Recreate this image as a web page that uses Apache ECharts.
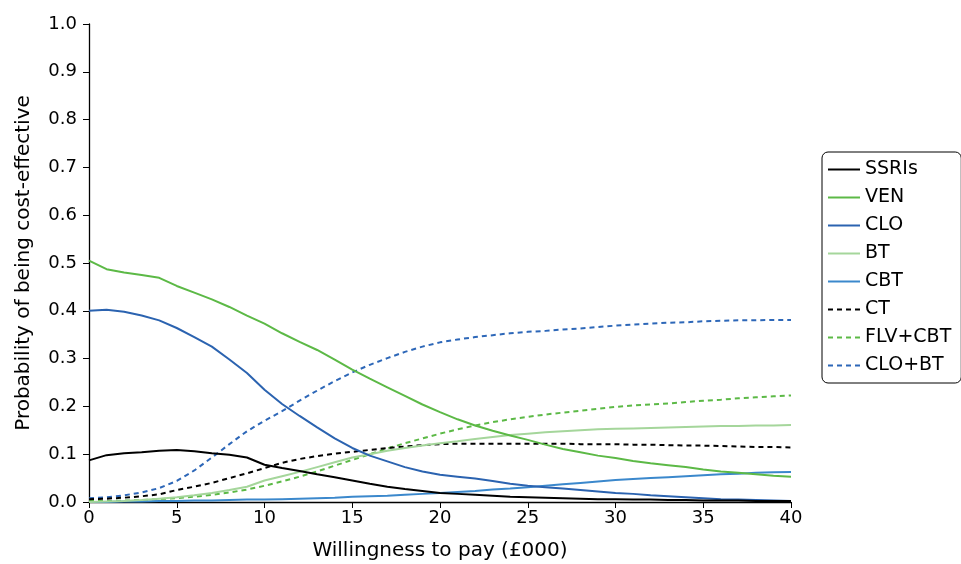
<!DOCTYPE html>
<html><head><meta charset="utf-8">
<script src="https://cdn.jsdelivr.net/npm/echarts@6/dist/echarts.min.js"></script>
<style>html,body{margin:0;padding:0;background:#fff}#c{width:961px;height:564px}</style>
</head><body><div id="c"></div>
<script>
const xValues = [0,1,2,3,4,5,6,7,8,9,10,11,12,13,14,15,16,17,18,19,20,21,22,23,24,25,26,27,28,29,30,31,32,33,34,35,36,37,38,39,40];
const seriesNames = ['SSRIs','VEN','CLO','BT','CBT','CT','FLV+CBT','CLO+BT'];
const ssris = [0.087,0.098,0.102,0.104,0.107,0.109,0.106,0.102,0.099,0.093,0.078,0.071,0.065,0.058,0.052,0.045,0.038,0.032,0.027,0.023,0.019,0.017,0.015,0.013,0.011,0.010,0.009,0.008,0.007,0.006,0.006,0.005,0.005,0.004,0.004,0.003,0.003,0.003,0.002,0.002,0.002];
const ven = [0.505,0.487,0.480,0.475,0.469,0.452,0.438,0.424,0.408,0.390,0.373,0.353,0.335,0.318,0.298,0.277,0.258,0.240,0.222,0.204,0.188,0.173,0.160,0.149,0.139,0.130,0.120,0.111,0.104,0.097,0.092,0.086,0.081,0.077,0.073,0.068,0.064,0.061,0.058,0.055,0.053];
const clo = [0.400,0.402,0.398,0.390,0.380,0.364,0.345,0.325,0.298,0.270,0.235,0.205,0.180,0.156,0.133,0.113,0.097,0.085,0.073,0.064,0.057,0.053,0.049,0.044,0.038,0.034,0.031,0.028,0.025,0.022,0.019,0.017,0.014,0.012,0.010,0.008,0.006,0.005,0.004,0.003,0.002];
const bt = [0.000,0.001,0.002,0.004,0.007,0.010,0.014,0.019,0.025,0.032,0.045,0.054,0.063,0.073,0.083,0.093,0.100,0.107,0.113,0.118,0.123,0.127,0.132,0.136,0.140,0.143,0.146,0.148,0.150,0.152,0.153,0.154,0.155,0.156,0.157,0.158,0.159,0.159,0.160,0.160,0.161];
const cbt = [0.000,0.000,0.001,0.001,0.002,0.002,0.003,0.003,0.004,0.005,0.005,0.006,0.007,0.008,0.009,0.011,0.012,0.013,0.015,0.017,0.019,0.021,0.023,0.026,0.028,0.031,0.034,0.037,0.040,0.043,0.046,0.048,0.050,0.052,0.054,0.056,0.058,0.059,0.061,0.062,0.063];
const ct = [0.006,0.007,0.009,0.012,0.016,0.025,0.032,0.040,0.050,0.060,0.071,0.082,0.090,0.096,0.101,0.105,0.109,0.113,0.116,0.119,0.121,0.122,0.122,0.122,0.122,0.122,0.122,0.122,0.121,0.121,0.121,0.120,0.120,0.119,0.118,0.118,0.117,0.116,0.115,0.115,0.114];
const flvCbt = [0.002,0.002,0.003,0.004,0.006,0.008,0.011,0.015,0.020,0.026,0.034,0.043,0.053,0.064,0.076,0.088,0.100,0.112,0.123,0.133,0.143,0.152,0.160,0.167,0.173,0.178,0.183,0.187,0.191,0.195,0.199,0.202,0.204,0.206,0.209,0.212,0.214,0.217,0.219,0.221,0.223];
const cloBt = [0.008,0.010,0.014,0.020,0.029,0.044,0.066,0.093,0.121,0.148,0.170,0.190,0.212,0.233,0.253,0.271,0.287,0.301,0.314,0.325,0.334,0.340,0.345,0.349,0.353,0.356,0.358,0.361,0.363,0.366,0.369,0.371,0.373,0.375,0.376,0.378,0.379,0.380,0.380,0.381,0.381];

const allData = [ssris, ven, clo, bt, cbt, ct, flvCbt, cloBt];
const colors = ['#000000','#5cb946','#2b63b0','#a5d69b','#3b88cc','#000000','#5cb946','#2d67b8'];
const dashed = [false,false,false,false,false,true,true,true];
const FONT = 'DejaVu Sans';

const chart = echarts.init(document.getElementById('c'), null, {renderer:'canvas'});
chart.setOption({
  animation:false,
  backgroundColor:'#fff',
  grid:{left:89, right:170, top:24, bottom:62, containLabel:false, outerBoundsMode:'none'},
  xAxis:{
    type:'value', min:0, max:40, interval:5,
    name:'Willingness to pay (£000)', nameLocation:'middle', nameGap:39,
    nameTextStyle:{fontFamily:FONT, fontSize:20, color:'#000'},
    axisLine:{lineStyle:{color:'#000', width:1.3}},
    axisTick:{show:true, length:6, lineStyle:{color:'#000'}},
    axisLabel:{fontFamily:FONT, fontSize:18, color:'#000', margin:7},
    splitLine:{show:false}
  },
  yAxis:{
    type:'value', min:0, max:1, interval:0.1,
    name:'Probability of being cost-effective', nameLocation:'middle', nameGap:55,
    nameTextStyle:{fontFamily:FONT, fontSize:20, color:'#000'},
    axisLine:{show:true, lineStyle:{color:'#000', width:1.3}},
    axisTick:{show:true, length:6, lineStyle:{color:'#000'}},
    axisLabel:{fontFamily:FONT, fontSize:18, color:'#000', margin:12, formatter:v=>v.toFixed(1)},
    splitLine:{show:false}
  },
  legend:{
    orient:'vertical', left:822, top:152,
    data:seriesNames,
    itemWidth:32, itemHeight:14, itemGap:9,
    itemStyle:{opacity:0},
    borderColor:'#000', borderWidth:1, borderRadius:6,
    padding:[8,10,8,5],
    textStyle:{fontFamily:FONT, fontSize:19, color:'#000'}
  },
  series: seriesNames.map((n,i)=>({
    name:n, type:'line', showSymbol:false, symbol:'none', smooth:false,
    data: xValues.map((x,j)=>[x, allData[i][j]]),
    lineStyle:{color:colors[i], width:2, type: dashed[i] ? [5,4] : 'solid'},
    itemStyle:{color:colors[i]},
    z: 10 - i
  }))
});
</script></body></html>
